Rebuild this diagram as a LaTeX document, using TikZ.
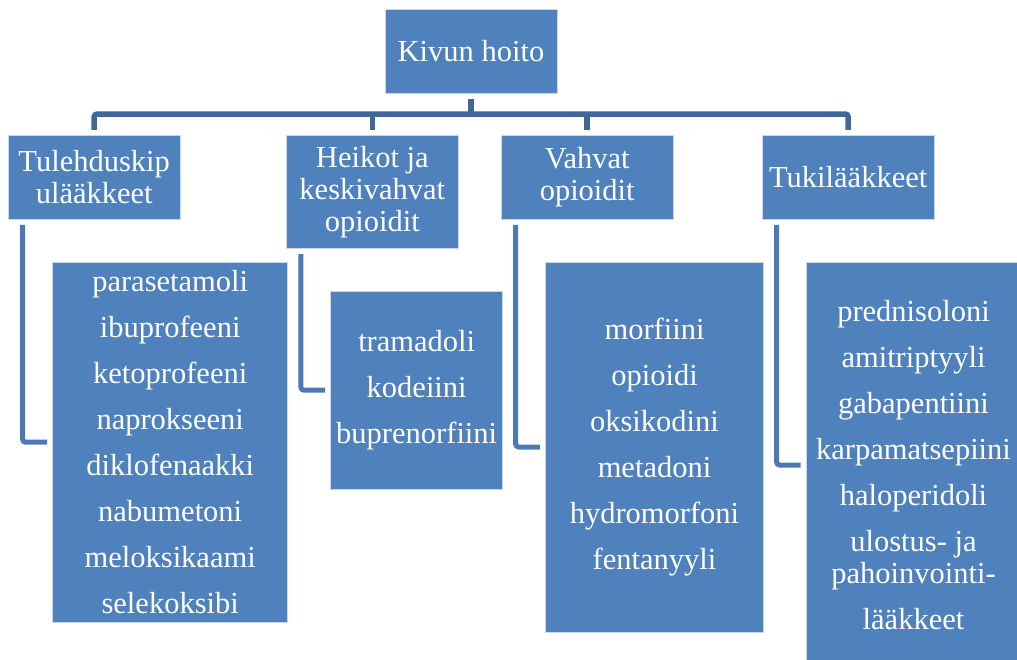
\documentclass[tikz,border=0pt]{standalone}
\usepackage{fontspec}
\setmainfont{Liberation Serif}
\definecolor{boxblue}{HTML}{4F81BD}
\definecolor{barblue}{HTML}{3F6898}
\definecolor{elbowblue}{HTML}{4A79B5}
\definecolor{edgeblue}{HTML}{C9D7EB}
\tikzset{
  box/.style={rectangle, fill=boxblue, draw=edgeblue, line width=0.8pt, text=white,
    inner sep=0pt, align=center, font={\fontsize{30.5pt}{31.7pt}\selectfont}},
  conn/.style={draw=barblue, line width=5.5pt, rounded corners=3pt, line cap=butt},
  elbow/.style={draw=elbowblue, line width=5pt, rounded corners=3pt, line cap=butt}
}
\begin{document}
\begin{tikzpicture}[x=1pt,y=-1pt]
\useasboundingbox (0,0) rectangle (1017,659);
% level 0
\node[box, minimum width=172pt, minimum height=84pt] (top) at (471,51) {Kivun hoito};
% level 1
\node[box, minimum width=172.3pt, minimum height=83.3pt] (a) at (94.2,177.4) {Tulehduskip\\ulääkkeet};
\node[box, minimum width=172pt, minimum height=112.6pt] (b) at (372.3,192) {Heikot ja\\keskivahvat\\opioidit};
\node[box, minimum width=172.3pt, minimum height=83.3pt] (c) at (587.2,177.4) {Vahvat\\opioidit};
\node[box, minimum width=172.3pt, minimum height=83.3pt] (d) at (848.2,177.4) {Tukilääkkeet};
% level 2
\node[box, minimum width=235pt, minimum height=360.3pt] (aa) at (170.2,442.2)
  {parasetamoli\\[14.3pt]ibuprofeeni\\[14.3pt]ketoprofeeni\\[14.3pt]naprokseeni\\[14.3pt]diklofenaakki\\[14.3pt]nabumetoni\\[14.3pt]meloksikaami\\[14.3pt]selekoksibi};
\node[box, minimum width=172pt, minimum height=197.7pt] (bb) at (416.7,390.2)
  {tramadoli\\[14.3pt]kodeiini\\[14.3pt]buprenorfiini};
\node[box, minimum width=217.6pt, minimum height=370pt] (cc) at (654.5,447)
  {morfiini\\[14.3pt]opioidi\\[14.3pt]oksikodini\\[14.3pt]metadoni\\[14.3pt]hydromorfoni\\[14.3pt]fentanyyli};
\node[box, minimum width=214.4pt, minimum height=406pt] (dd) at (913.5,465)
  {prednisoloni\\[14.3pt]amitriptyyli\\[14.3pt]gabapentiini\\[14.3pt]karpamatsepiini\\[14.3pt]haloperidoli\\[14.3pt]ulostus- ja\\pahoinvointi-\\[14.3pt]lääkkeet};
% tree connectors
\coordinate (bar) at (471,114);
\draw[conn] ([yshift=-5.3pt]top.south) -- (top.south |- bar);
\draw[conn] ([yshift=5.5pt]a.north) -- (a.north |- bar) -- (d.north |- bar) -- ([yshift=5.5pt]d.north);
\draw[conn] ([yshift=5.5pt]b.north) -- (b.north |- bar);
\draw[conn] ([yshift=5.5pt]c.north) -- (c.north |- bar);
% elbow connectors
\draw[elbow] ([xshift=15pt,yshift=-5.3pt]a.south west) |- ([xshift=-5.3pt]aa.west);
\draw[elbow] ([xshift=15pt,yshift=-5.3pt]b.south west) |- ([xshift=-5.3pt]bb.west);
\draw[elbow] ([xshift=15pt,yshift=-5.3pt]c.south west) |- ([xshift=-5.3pt]cc.west);
\draw[elbow] ([xshift=15pt,yshift=-5.3pt]d.south west) |- ([xshift=-5.3pt]dd.west);
\end{tikzpicture}
\end{document}
